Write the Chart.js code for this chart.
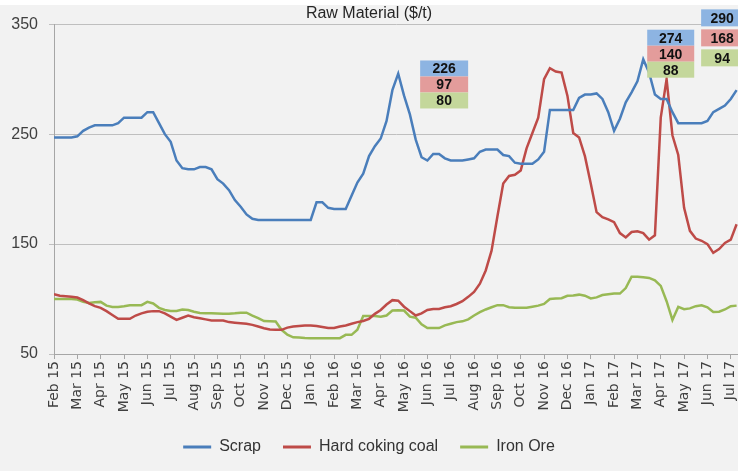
<!DOCTYPE html>
<html>
<head>
<meta charset="utf-8">
<script src="https://cdn.jsdelivr.net/npm/chart.js@4.4.1/dist/chart.umd.min.js"></script>
<style>
  html, body { margin: 0; padding: 0; background: #fff; }
  #wrap { width: 738px; height: 471px; }
</style>
</head>
<body>
<div id="wrap"><canvas id="chart" width="738" height="471"></canvas></div>
<script>
// month tick labels, one data point per week (about 4 per month)
const months = [
  "Feb 15", "Mar 15", "Apr 15", "May 15", "Jun 15", "Jul 15", "Aug 15", "Sep 15", "Oct 15", "Nov 15", "Dec 15",
  "Jan 16", "Feb 16", "Mar 16", "Apr 16", "May 16", "Jun 16", "Jul 16", "Aug 16", "Sep 16", "Oct 16", "Nov 16", "Dec 16",
  "Jan 17", "Feb 17", "Mar 17", "Apr 17", "May 17", "Jun 17", "Jul 17"
];
const pointsPerMonth = 4;

const scrap = [
  247, 247, 247, 247, 248, 253, 256, 258, 258, 258,
  258, 260, 265, 265, 265, 265, 270, 270, 260, 250,
  243, 226, 219, 218, 218, 220, 220, 218, 209, 205,
  199, 190, 184, 177, 173, 172, 172, 172, 172, 172,
  172, 172, 172, 172, 172, 188, 188, 183, 182, 182,
  182, 194, 206, 214, 230, 239, 246, 262, 290, 305,
  285, 268, 245, 229, 226, 232, 232, 228, 226, 226,
  226, 227, 228, 234, 236, 236, 236, 231, 230, 224,
  223, 223, 223, 227, 234, 272, 272, 272, 272, 272,
  283, 286, 286, 287, 282, 270, 253, 264, 279, 288,
  298, 318, 306, 286, 282, 282, 270, 260, 260, 260,
  260, 260, 262, 270, 273, 276, 282, 290
];

const coal = [
  104.5, 103, 102.5, 102, 101.4, 99, 96, 93.5, 92, 89,
  85.5, 82, 82, 82, 85, 87, 88.5, 89, 89, 87,
  84, 81, 83, 85, 83.5, 82.5, 81.5, 80.5, 80.5, 80.5,
  79, 78.5, 78, 77.5, 76.5, 75, 73.5, 72.3, 72, 72,
  74, 75, 75.5, 76, 76, 75.5, 74.5, 73.6, 73.6, 75,
  76, 77.5, 79, 80, 82, 86.5, 90, 95, 99, 98.5,
  93, 89, 85, 87, 90, 91, 91, 92.5, 93.5, 95.5,
  98, 102, 106.5, 114, 126, 144, 175, 205, 212, 213,
  217, 237, 251, 265, 300, 310, 307, 306, 285, 251,
  247, 230, 205, 179, 174.5, 172.5, 170, 160, 156, 161,
  161.6, 160, 154, 158, 265, 300, 249, 231, 183, 162,
  155, 153, 150, 142, 145.5, 151, 154, 168
];

const ironOre = [
  100, 100, 100, 100, 99.5, 97.5, 96.5, 97, 97.4, 94,
  92.8, 92.8, 93.5, 94.4, 94.4, 94.4, 97.4, 96, 92, 90,
  89.2, 89.2, 90.5, 90, 88.5, 87.3, 87, 87, 86.8, 86.7,
  86.7, 87, 87.6, 87.6, 85, 82.7, 80, 79.7, 79.5, 72,
  67.5, 65.2, 65, 64.5, 64.4, 64.4, 64.4, 64.4, 64.4, 64.4,
  67.4, 67.4, 72, 84.6, 84.6, 84.6, 84, 85, 89.5, 89.8,
  89.5, 84, 83, 77, 73.6, 73.6, 73.6, 76, 77.5, 79,
  79.7, 81.5, 85, 88, 90.5, 92.5, 94.4, 94.4, 92.5, 92,
  92, 92, 93, 94, 95.5, 100, 100.5, 100.8, 103, 103.3,
  104, 103, 100.5, 101.5, 103.6, 104.3, 105, 105, 110, 120.3,
  120.3, 119.8, 119.2, 117, 112, 98, 81, 92.8, 90.7, 91.5,
  93.5, 94.3, 92.5, 88.2, 88.5, 90.5, 93.5, 94
];

// callout boxes: Scrap / Hard coking coal / Iron Ore
const calloutValues = [
  [226, 97, 80],
  [274, 140, 88],
  [290, 168, 94]
];
const calloutPlace = [
  { x: 15.69, y: 317, w: 48, h: 16, gap: 0 },
  { x: 25.42, y: 345, w: 47, h: 16, gap: 0 },
  { x: 27.73, y: 363.5, w: 42, h: 17, gap: 3 }
];

const lineColors = ["#4a7ebb", "#be4b48", "#98b954"];
const boxColors = ["#8db4e2", "#e39c9b", "#c4d79b"];

function toPoints(arr) {
  return arr.map((v, i) => ({ x: i / pointsPerMonth, y: v }));
}

const panelBg = {
  id: "panelBg",
  beforeDraw(chart) {
    const ctx = chart.ctx;
    ctx.save();
    ctx.fillStyle = "#fff";
    ctx.fillRect(0, 0, chart.width, chart.height);
    ctx.fillStyle = "#f2f2f2";
    ctx.fillRect(0, 5, chart.width, chart.height - 5);
    ctx.restore();
  }
};

const callouts = {
  id: "callouts",
  afterDatasetsDraw(chart) {
    const ctx = chart.ctx;
    const xs = chart.scales.x, ys = chart.scales.y;
    ctx.save();
    ctx.font = "bold 14px 'Liberation Sans', Arial, sans-serif";
    ctx.textAlign = "center";
    ctx.textBaseline = "middle";
    calloutValues.forEach((vals, g) => {
      const p = calloutPlace[g];
      const left = xs.getPixelForValue(p.x);
      const top = ys.getPixelForValue(p.y);
      vals.forEach((v, j) => {
        const y0 = top + j * (p.h + p.gap);
        ctx.fillStyle = boxColors[j];
        ctx.fillRect(left, y0, p.w, p.h);
        ctx.fillStyle = "#111";
        ctx.fillText(String(v), left + p.w / 2, y0 + p.h / 2 + 1);
      });
    });
    ctx.restore();
  }
};

new Chart(document.getElementById("chart"), {
  type: "line",
  data: {
    datasets: [
      { label: "Scrap", data: toPoints(scrap), borderColor: lineColors[0], backgroundColor: lineColors[0] },
      { label: "Hard coking coal", data: toPoints(coal), borderColor: lineColors[1], backgroundColor: lineColors[1] },
      { label: "Iron Ore", data: toPoints(ironOre), borderColor: lineColors[2], backgroundColor: lineColors[2] }
    ]
  },
  options: {
    responsive: false,
    animation: false,
    devicePixelRatio: 1,
    elements: {
      line: { borderWidth: 2.5, tension: 0 },
      point: { radius: 0 }
    },
    layout: { padding: { top: 0, right: 0, bottom: 6, left: 0 } },
    scales: {
      x: {
        type: "linear",
        min: 0,
        max: 29.31,
        afterBuildTicks: s => { s.ticks = months.map((m, i) => ({ value: i })); },
        afterFit: s => { s.height = 63; s.paddingLeft = 0; s.paddingRight = 0; },
        ticks: {
          autoSkip: false,
          minRotation: 90,
          maxRotation: 90,
          padding: 2,
          color: "#404040",
          font: { family: "'DejaVu Sans'", size: 14 },
          callback: v => months[v]
        },
        grid: { drawOnChartArea: false, tickLength: 5, color: "#a6a6a6" },
        border: { color: "#a6a6a6" }
      },
      y: {
        min: 50,
        max: 350,
        afterFit: s => { s.width = 54; },
        ticks: {
          stepSize: 100,
          padding: 11,
          color: "#404040",
          font: { family: "'Liberation Sans'", size: 16 }
        },
        grid: { color: "#bfbfbf", tickLength: 5 },
        border: { color: "#a6a6a6" }
      }
    },
    plugins: {
      title: {
        display: true,
        text: "Raw Material ($/t)",
        color: "#262626",
        font: { family: "'Liberation Sans'", size: 16, weight: "normal" },
        padding: { top: 4, bottom: 1 }
      },
      legend: {
        position: "bottom",
        labels: {
          boxWidth: 28,
          boxHeight: 3,
          padding: 22,
          color: "#333",
          font: { family: "'Liberation Sans'", size: 16 },
          generateLabels: chart => Chart.defaults.plugins.legend.labels.generateLabels(chart)
            .map(l => Object.assign(l, { lineWidth: 0 }))
        }
      },
      tooltip: { enabled: false }
    }
  },
  plugins: [panelBg, callouts]
});
</script>
</body>
</html>
